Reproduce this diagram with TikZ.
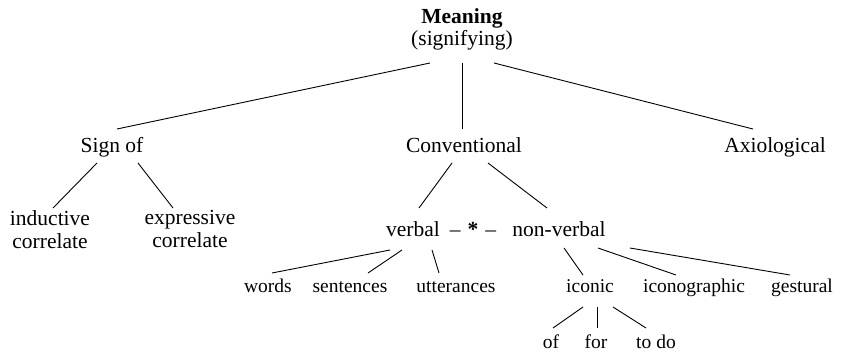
\documentclass[tikz,border=0pt]{standalone}
\usepackage{fontspec}
\setmainfont{Liberation Serif}
\usepackage{tikz}
\usetikzlibrary{positioning}
\newcommand{\sizeupper}{\fontsize{21.5}{23}\selectfont}
\newcommand{\sizelower}{\fontsize{19.5}{23}\selectfont}
\tikzset{
    concept/.style={anchor=base, inner sep=0pt, font=\sizeupper},
    term/.style={anchor=base, inner sep=0pt, font=\sizelower},
    pair/.style={anchor=north, inner sep=0pt, align=center, font=\sizeupper},
    branch/.style={line width=0.9pt},
}

\begin{document}
\begin{tikzpicture}[x=1pt, y=-1pt]
    \useasboundingbox (0,0) rectangle (841,351);

    % top and first level
    \path
        (462,23) node[concept] (meaning) {\textbf{Meaning}}
        (462,45) node[concept] (signifying) {(signifying)}
        (112,152) node[concept] (sign) {Sign of}
        (464,152) node[concept] (conv) {Conventional}
        (775,152) node[concept] (axio) {Axiological};

    \draw[branch] ([shift={(-32,18)}]signifying.base) -- ([shift={(5,-23)}]sign.base);
    \draw[branch] ([shift={(0,18)}]signifying.base) -- ([shift={(-2,-23)}]conv.base);
    \draw[branch] ([shift={(32,18)}]signifying.base) -- ([shift={(-22,-23)}]axio.base);

    % sign of
    \path
        (50,210) node[pair] (inductive) {inductive\\correlate}
        (190,210) node[pair] (expressive) {expressive\\correlate};

    \draw[branch] ([shift={(-15,11)}]sign.base) -- ([shift={(3,-2)}]inductive.north);
    \draw[branch] ([shift={(26,11)}]sign.base) -- ([shift={(-17,-2)}]expressive.north);

    % conventional
    \path
        (413,236) node[concept] (verbal) {verbal}
        (473,236) node[concept] (link) {\textendash\hspace{7pt}\textbf{*}\hspace{7pt}\textendash}
        (559,236) node[concept] (nonverbal) {non-verbal};

    \draw[branch] ([shift={(-12,11)}]conv.base) -- ([shift={(6,-28)}]verbal.base);
    \draw[branch] ([shift={(24,11)}]conv.base) -- ([shift={(-12,-28)}]nonverbal.base);

    % verbal
    \path
        (268,292) node[term] (words) {words}
        (350,292) node[term] (sentences) {sentences}
        (456,292) node[term] (utterances) {utterances};

    \draw[branch] ([shift={(-23,14)}]verbal.base) -- ([shift={(4,-19)}]words.base);
    \draw[branch] ([shift={(-11,14)}]verbal.base) -- ([shift={(18,-19)}]sentences.base);
    \draw[branch] ([shift={(19,14)}]verbal.base) -- ([shift={(-17,-19)}]utterances.base);

    % non-verbal
    \path
        (590,292) node[term] (iconic) {iconic}
        (694,292) node[term] (iconographic) {iconographic}
        (802,292) node[term] (gestural) {gestural};

    \draw[branch] ([shift={(5,12)}]nonverbal.base) -- ([shift={(-7,-17)}]iconic.base);
    \draw[branch] ([shift={(39,12)}]nonverbal.base) -- ([shift={(-18,-17)}]iconographic.base);
    \draw[branch] ([shift={(71,12)}]nonverbal.base) -- ([shift={(-12,-17)}]gestural.base);

    % iconic
    \path
        (551,348) node[term] (of) {of}
        (596,348) node[term] (for) {for}
        (656,348) node[term] (todo) {to do};

    \draw[branch] ([shift={(-7,15)}]iconic.base) -- ([shift={(2,-20)}]of.base);
    \draw[branch] ([shift={(7,15)}]iconic.base) -- ([shift={(1,-20)}]for.base);
    \draw[branch] ([shift={(23,15)}]iconic.base) -- ([shift={(-10,-20)}]todo.base);
\end{tikzpicture}
\end{document}
